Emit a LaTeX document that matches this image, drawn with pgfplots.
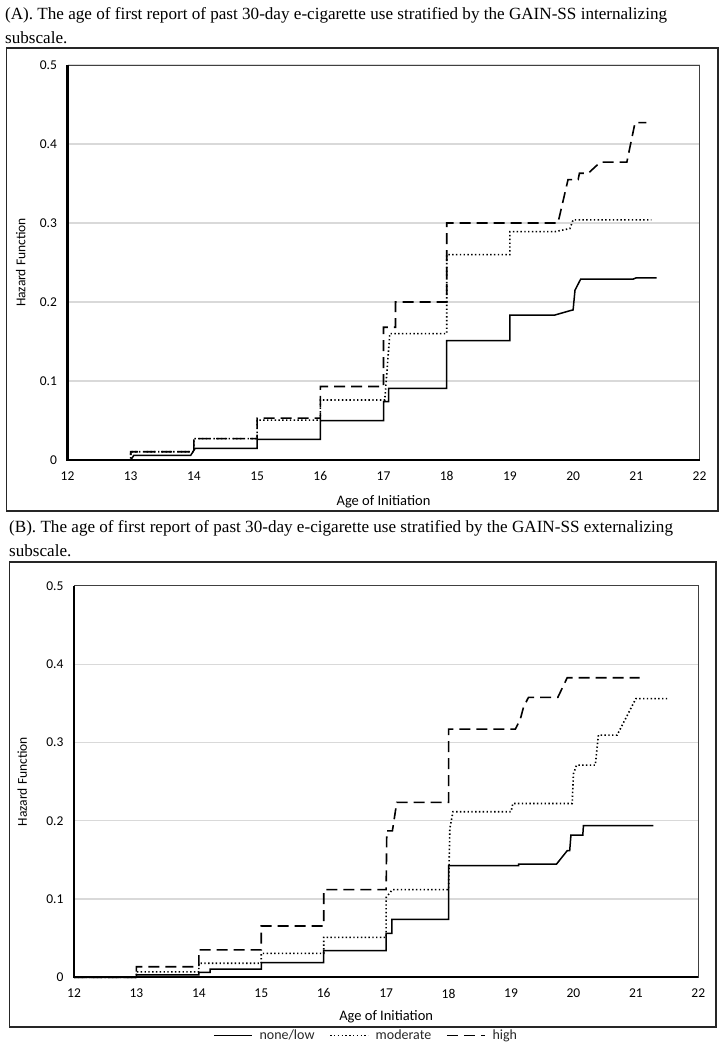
\documentclass[border=0pt]{standalone}
\usepackage{fontspec}
\setmainfont{Liberation Serif}
\newfontfamily\calfont{Carlito}
\usepackage{pgfplots}
\pgfplotsset{compat=1.18}

\pgfplotsset{
  hz/.style={
    scale only axis,
    xmin=12, xmax=22, ymin=0, ymax=0.5,
    xtick={12,13,14,15,16,17,18,19,20,21,22},
    xticklabels={12,13,14,15,16,17,18,19,20,21,22},
    ytick={0,0.1,0.2,0.3,0.4,0.5},
    yticklabels={0,0.1,0.2,0.3,0.4,0.5},
    major tick length=0pt,
    ymajorgrids,
    grid style={draw=black!15, line width=1.2pt},
    axis line style={draw=black!75, line width=1pt},
    tick label style={font=\calfont\fontsize{13.5}{15}\selectfont, text=black},
    xticklabel style={yshift=-8pt},
    yticklabel style={xshift=-7pt},
    clip=false,
  },
  lowS/.style={black, line width=1.5pt},
  modS/.style={black, line width=1.6pt, dash pattern=on 1.4pt off 2.4pt},
  hiS/.style={black, line width=1.6pt, dash pattern=on 11pt off 6pt},
}

\begin{document}
\begin{tikzpicture}
\useasboundingbox (0pt,0pt) rectangle (724pt,-1050pt);

% ---------- Titles ----------
\node[anchor=west, inner sep=0pt, font=\fontsize{17.1}{19}\selectfont] at (5pt,-15pt)
  {(A). The age of first report of past 30-day e-cigarette use stratified by the GAIN-SS internalizing};
\node[anchor=west, inner sep=0pt, font=\fontsize{17.1}{19}\selectfont] at (5pt,-38pt)
  {subscale.};
\node[anchor=west, inner sep=0pt, font=\fontsize{17.1}{19}\selectfont] at (9pt,-528pt)
  {(B). The age of first report of past 30-day e-cigarette use stratified by the GAIN-SS externalizing};
\node[anchor=west, inner sep=0pt, font=\fontsize{17.1}{19}\selectfont] at (9pt,-551pt)
  {subscale.};

% ---------- Outer frames ----------
\draw[black!85, line width=1.3pt] (6.5pt,-48pt) rectangle (718pt,-511pt);
\draw[black!85, line width=1.3pt] (9.5pt,-562pt) rectangle (716pt,-1027pt);

% ---------- Panel A ----------
\begin{axis}[hz,
  at={(67.5pt,-460pt)}, anchor=south west,
  width=632pt, height=395pt,
  xlabel={Age of Initiation}, ylabel={Hazard Function},
  every axis x label/.style={at={(axis description cs:0.5,-0.105)}, anchor=center,
    font=\calfont\fontsize{14.5}{16}\selectfont, text=black},
  every axis y label/.style={at={(axis description cs:-0.074,0.5)}, rotate=90, anchor=center,
    font=\calfont\fontsize{13.5}{15}\selectfont, text=black},
]
\addplot[lowS] coordinates {
(12,0) (13,0) (13.05,0.006) (13.95,0.006) (14.02,0.0148) (15,0.0148) (15,0.026) (16,0.026)
(16,0.0498) (17,0.0498) (17,0.074) (17.08,0.074) (17.08,0.0907) (18,0.0907) (18,0.151)
(19,0.151) (19,0.1835) (19.71,0.1835) (19.95,0.189) (20,0.19) (20.03,0.215) (20.12,0.229)
(20.95,0.229) (21.0,0.2306) (21.32,0.2306)};
\addplot[modS] coordinates {
(12,0) (13,0) (13,0.0105) (14,0.0105) (14,0.027) (15,0.027) (15,0.0505) (16,0.0505)
(16,0.076) (17.02,0.076) (17.06,0.118) (17.1,0.16) (18,0.16) (18,0.26) (19,0.26)
(19,0.289) (19.71,0.289) (19.95,0.293) (20,0.304) (21.24,0.304)};
\addplot[hiS] coordinates {
(12,0) (13,0) (13,0.0105) (14,0.0105) (14,0.027) (15,0.027) (15,0.053) (16,0.053)
(16,0.093) (17,0.093) (17,0.168) (17.19,0.168) (17.19,0.2) (18,0.2) (18,0.3)
(19.76,0.3) (19.92,0.355) (20.08,0.355) (20.1,0.363) (20.24,0.363) (20.43,0.377)
(20.85,0.377) (20.98,0.427) (21.16,0.427)};
\draw[black, line width=2pt] (axis cs:12,0.5) -- (axis cs:12,0) -- (axis cs:22,0);
\end{axis}

% ---------- Panel B ----------
\begin{axis}[hz,
  at={(74pt,-977.3pt)}, anchor=south west,
  width=624.3pt, height=391.5pt,
  xlabel={Age of Initiation}, ylabel={Hazard Function},
  every axis x label/.style={at={(axis description cs:0.5,-0.1)}, anchor=center,
    font=\calfont\fontsize{14.5}{16}\selectfont, text=black},
  every axis y label/.style={at={(axis description cs:-0.083,0.5)}, rotate=90, anchor=center,
    font=\calfont\fontsize{13.5}{15}\selectfont, text=black},
  legend style={at={(axis description cs:0.468,-0.1487)}, anchor=center, draw=none, fill=none,
    legend columns=3, font=\calfont\fontsize{14}{15}\selectfont, text=black!85,
    /tikz/every even column/.append style={column sep=13pt}, inner sep=0pt},
  legend image code/.code={\draw[#1, line width=1.2pt] (0pt,0pt) -- (38pt,0pt);},
]
\addplot[lowS] coordinates {
(12,0) (13,0) (13,0.003) (14,0.003) (14,0.0064) (14.18,0.0064) (14.18,0.0106) (15,0.0106)
(15,0.0187) (16,0.0187) (16,0.034) (17,0.034) (17,0.056) (17.09,0.056) (17.09,0.074)
(18,0.074) (18,0.1425) (19.12,0.1425) (19.12,0.1447) (19.73,0.1447) (19.9,0.1617)
(19.94,0.1617) (19.96,0.1817) (20.15,0.1817) (20.16,0.1936) (21.28,0.1936)};
\addlegendentry{\hspace{5pt}none/low}
\addplot[modS] coordinates {
(12,0) (13,0) (13,0.007) (14,0.007) (14,0.018) (15,0.018) (15,0.0306) (16,0.0306)
(16,0.051) (17,0.051) (17,0.102) (17.1,0.112) (18,0.112) (18.02,0.19) (18.07,0.2115)
(19,0.2115) (19.03,0.222) (19.98,0.222) (20.0,0.26) (20.05,0.271) (20.35,0.271)
(20.4,0.3094) (20.7,0.3094) (21.0,0.356) (21.5,0.356)};
\addlegendentry{\hspace{5pt}moderate}
\addplot[hiS] coordinates {
(12,0) (13,0) (13,0.0135) (14,0.0135) (14,0.035) (15,0.035) (15,0.0655) (16,0.0655)
(16,0.112) (17,0.112) (17.01,0.187) (17.1,0.187) (17.17,0.2235) (18,0.2235) (18,0.317)
(19.07,0.317) (19.15,0.33) (19.2,0.345) (19.28,0.3576) (19.75,0.3576) (19.9,0.3826)
(21.06,0.3826)};
\addlegendentry{\hspace{5pt}high}
\draw[black, line width=2pt] (axis cs:12,0.5) -- (axis cs:12,0) -- (axis cs:22,0);
\end{axis}
\end{tikzpicture}
\end{document}
